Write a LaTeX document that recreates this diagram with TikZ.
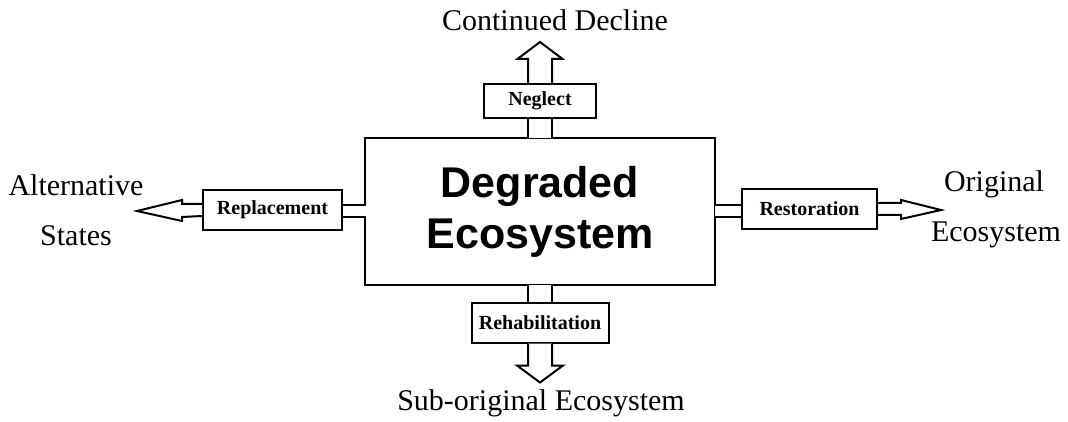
\documentclass[tikz,border=0pt]{standalone}
\usepackage{fontspec}
\setmainfont{Liberation Serif}
\newfontfamily\arialf{Liberation Sans}
\usetikzlibrary{calc}
\begin{document}
\begin{tikzpicture}[x=1pt,y=1pt,line width=2pt,line join=miter,
  smallbox/.style={draw,fill=white,inner sep=0pt,font=\fontsize{20}{20}\selectfont\bfseries},
  outer/.style={inner sep=0pt,font=\fontsize{30}{32}\selectfont},
  mainbox/.style={draw,fill=white,minimum width=350pt,minimum height=147pt,inner sep=0pt,align=center,
    font=\arialf\bfseries\fontsize{43}{51}\selectfont},
  blockarrow/.style={draw,fill=white}]
\useasboundingbox (0,0) rectangle (1068,-422);

% main box
\node[mainbox] (deg) at (540,-211.5) {Degraded\\Ecosystem};

% small boxes
\node[smallbox,minimum width=112pt,minimum height=34pt] (neg) at (540,-101) {Neglect};
\node[smallbox,minimum width=137pt,minimum height=40pt] (reh) at (540,-322.5) {Rehabilitation};
\node[smallbox,minimum width=139pt,minimum height=40pt] (rep) at (272.5,-210) {Replacement};
\node[smallbox,minimum width=135pt,minimum height=40pt] (res) at (809.5,-209) {Restoration};

% outer labels
\node[outer] (cd) at (555,-20) {Continued Decline};
\node[outer] (alt1) at (76,-185) {Alternative};
\node[outer] (alt2) at (76,-236) {States};
\node[outer] (ori1) at (994,-184) {Original};
\node[outer] (ori2) at (996,-235) {Ecosystem};
\node[outer] (sub) at (541,-403) {Sub-original Ecosystem};

% channels: top
\fill[white] ($(neg.south)+(-11.5,-1)$) rectangle ($(deg.north)+(11.5,-1.5)$);
\draw ($(neg.south)+(-12,0)$) -- ($(deg.north)+(-12,-1)$) -- ++(-1,0);
\draw ($(neg.south)+(12,0)$) -- ($(deg.north)+(12,-1)$) -- ++(1,0);
% bottom
\fill[white] ($(reh.north)+(-11.5,1)$) rectangle ($(deg.south)+(11.5,1.5)$);
\draw ($(reh.north)+(-12,0)$) -- ($(deg.south)+(-12,1)$) -- ++(-1,0);
\draw ($(reh.north)+(12,0)$) -- ($(deg.south)+(12,1)$) -- ++(1,0);
% left
\coordinate (lt) at ($(deg.west)+(1,6)$);
\coordinate (lb) at ($(deg.west)+(1,-6)$);
\fill[white] ($(rep.east |- lt)+(1,-1)$) rectangle ($(lb)+(0.5,1)$);
\draw (rep.east |- lt) -- (lt) -- ++(0,1);
\draw (rep.east |- lb) -- (lb) -- ++(0,-1);
% right
\coordinate (rt) at ($(deg.east)+(-1,6)$);
\coordinate (rb) at ($(deg.east)+(-1,-6)$);
\fill[white] ($(res.west |- rt)+(-1,-1)$) rectangle ($(rb)+(-0.5,1)$);
\draw (res.west |- rt) -- (rt) -- ++(0,1);
\draw (res.west |- rb) -- (rb) -- ++(0,-1);

% block arrows
\draw[blockarrow] ($(neg.north)+(-12,0)$) -- ++(0,24) -- ++(-10.5,0) -- ($(neg.north)+(0,41)$)
  -- ($(neg.north)+(22.5,24)$) -- ++(-10.5,0) -- ($(neg.north)+(12,0)$);
\draw[blockarrow] ($(reh.south)+(-12,0)$) -- ++(0,-22) -- ++(-11,0) -- ($(reh.south)+(0,-39)$)
  -- ($(reh.south)+(23,-22)$) -- ++(-11,0) -- ($(reh.south)+(12,0)$);
\draw[blockarrow] ($(rep.west)+(0,6)$) -- ++(-20,0) -- ++(0,4) -- ($(rep.west)+(-65,-1)$)
  -- ($(rep.west)+(-20,-11)$) -- ++(0,4) -- ($(rep.west)+(0,-6)$);
\draw[blockarrow] ($(res.east)+(0,6)$) -- ++(23,0) -- ++(0,3) -- ($(res.east)+(63,-1)$)
  -- ($(res.east)+(23,-10)$) -- ++(0,4) -- ($(res.east)+(0,-6)$);
\end{tikzpicture}
\end{document}
